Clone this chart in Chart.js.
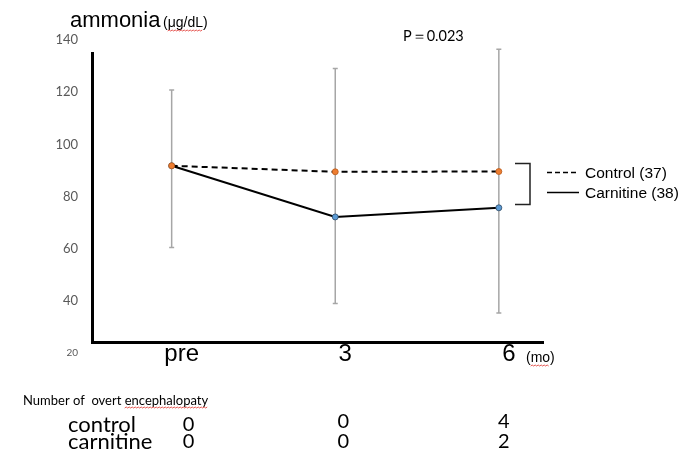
<!DOCTYPE html>
<html>
<head>
<meta charset="utf-8">
<script src="https://cdn.jsdelivr.net/npm/chart.js@4"></script>
<style>
  html, body { margin: 0; padding: 0; background: #fff; }
</style>
</head>
<body>
<canvas id="chart" width="685" height="453"></canvas>
<script>
const timepoints = ['pre', '3', '6'];
const controlMean = [91.8, 89.5, 89.6];
const carnitineMean = [91.8, 72.2, 75.7];
const errHigh = [120.8, 129.1, 136.4];
const errLow = [60.5, 39.0, 35.4];
const yTicks = [20, 40, 60, 80, 100, 120, 140];
const eventRows = ['control', 'carnitine'];
const controlEvents = [0, 0, 4];
const carnitineEvents = [0, 0, 2];

// x nudges for the count columns under each timepoint
const countShift = [17, 8, 5];

function pts(values) {
    return values.map((v, i) => ({ x: i, y: v }));
}

// red spell-check wave under a word
function squiggle(ctx, x0, x1, y) {
    ctx.save();
    ctx.strokeStyle = '#e0302a';
    ctx.lineWidth = 0.8;
    ctx.beginPath();
    let up = true;
    ctx.moveTo(x0, y);
    for (let x = x0 + 1.5; x <= x1; x += 1.5) {
        ctx.lineTo(x, up ? y - 1 : y);
        up = !up;
    }
    ctx.stroke();
    ctx.restore();
}

const extras = {
    id: 'extras',
    beforeDatasetsDraw(chart) {
        const { ctx, scales: { x, y } } = chart;
        ctx.save();
        ctx.strokeStyle = '#a6a6a6';
        ctx.lineWidth = 1.5;
        errHigh.forEach((hi, i) => {
            const px = x.getPixelForValue(i);
            const top = y.getPixelForValue(hi);
            const bot = y.getPixelForValue(errLow[i]);
            ctx.beginPath();
            ctx.moveTo(px, top); ctx.lineTo(px, bot);
            ctx.moveTo(px - 2.5, top); ctx.lineTo(px + 2.5, top);
            ctx.moveTo(px - 2.5, bot); ctx.lineTo(px + 2.5, bot);
            ctx.stroke();
        });
        ctx.restore();
    },
    afterDraw(chart) {
        const { ctx, scales: { x } } = chart;
        ctx.save();
        ctx.fillStyle = '#000';
        ctx.textBaseline = 'alphabetic';
        ctx.textAlign = 'left';

        // axis title
        ctx.font = '22px "Liberation Sans"';
        ctx.fillText('ammonia', 70, 27);
        ctx.font = '14px "Liberation Sans"';
        ctx.fillText('(μg/dL)', 163, 27);
        const pw = ctx.measureText('(').width;
        const uw = ctx.measureText('μg/dL').width;
        squiggle(ctx, 163 + pw, 163 + pw + uw, 31);

        ctx.font = '14.5px Lato';
        ctx.fillText('P＝0.023', 403, 41);

        // bracket between the two groups
        ctx.strokeStyle = '#222';
        ctx.lineWidth = 1.5;
        ctx.beginPath();
        ctx.moveTo(515, 163.5); ctx.lineTo(530, 163.5); ctx.lineTo(530, 204.5); ctx.lineTo(515, 204.5);
        ctx.stroke();

        // legend
        ctx.strokeStyle = '#000';
        ctx.beginPath();
        ctx.setLineDash([5, 3]);
        ctx.moveTo(547, 172.5); ctx.lineTo(579, 172.5);
        ctx.stroke();
        ctx.setLineDash([]);
        ctx.beginPath();
        ctx.moveTo(547, 192.5); ctx.lineTo(579, 192.5);
        ctx.stroke();
        ctx.font = '15.5px "Liberation Sans"';
        ctx.fillText('Control (37)', 585, 178);
        ctx.fillText('Carnitine (38)', 585, 198);

        // unit after the last tick
        ctx.font = '14px "Liberation Sans"';
        ctx.fillText('(mo)', 526, 362);
        const mw = ctx.measureText('mo').width;
        squiggle(ctx, 526 + ctx.measureText('(').width, 526 + ctx.measureText('(').width + mw, 366);

        // counts table
        ctx.font = '13px Lato';
        const head = 'Number of  overt ';
        ctx.fillText(head + 'encephalopaty', 23, 405);
        const hx = 23 + ctx.measureText(head).width;
        squiggle(ctx, hx, hx + ctx.measureText('encephalopaty').width, 408);

        ctx.font = '22px Lato';
        ctx.fillText(eventRows[0], 68, 432);
        ctx.fillText(eventRows[1], 68, 449);

        ctx.font = '20px Lato';
        ctx.textAlign = 'center';
        controlEvents.forEach((n, i) => {
            ctx.fillText(String(n), x.getPixelForValue(i) + countShift[i], i === 0 ? 431 : 428);
        });
        carnitineEvents.forEach((n, i) => {
            ctx.fillText(String(n), x.getPixelForValue(i) + countShift[i], 448);
        });
        ctx.restore();
    }
};

new Chart(document.getElementById('chart'), {
    type: 'line',
    data: {
        datasets: [{
            label: 'Control (37)',
            data: pts(controlMean),
            borderColor: '#000',
            borderWidth: 2,
            borderDash: [6, 4],
            pointRadius: 3,
            pointBackgroundColor: '#ed7d31',
            pointBorderColor: '#b85a1c',
            pointBorderWidth: 0.8
        }, {
            label: 'Carnitine (38)',
            data: pts(carnitineMean),
            borderColor: '#000',
            borderWidth: 2,
            pointRadius: 3,
            pointBackgroundColor: '#5b9bd5',
            pointBorderColor: '#2e4a66',
            pointBorderWidth: 0.8
        }]
    },
    options: {
        responsive: false,
        animation: false,
        layout: { padding: { top: 53, right: 142, left: 0, bottom: 0 } },
        plugins: {
            legend: { display: false },
            tooltip: { enabled: false }
        },
        scales: {
            x: {
                type: 'linear',
                min: -0.487,
                max: 2.27,
                grid: { display: false, drawTicks: false },
                border: { display: true, color: '#000', width: 3 },
                afterBuildTicks: s => { s.ticks = timepoints.map((t, i) => ({ value: i })); },
                afterFit: s => { s.height = 111; },
                ticks: {
                    callback: v => timepoints[v],
                    labelOffset: 10,
                    padding: 0,
                    autoSkip: false,
                    maxRotation: 0,
                    color: '#000',
                    font: { family: 'Liberation Sans', size: 24, lineHeight: 1 }
                }
            },
            y: {
                min: 24.3,
                max: 135,
                grid: { display: false, drawTicks: false },
                border: { display: true, color: '#000', width: 3 },
                afterBuildTicks: s => { s.ticks = yTicks.map(v => ({ value: v })); },
                afterFit: s => { s.width = 92; },
                ticks: {
                    padding: 14,
                    autoSkip: false,
                    color: '#595959',
                    font: ctx => ({ family: 'Lato', size: ctx.tick && ctx.tick.value === 20 ? 10 : 13 })
                }
            }
        }
    },
    plugins: [extras]
});
</script>
</body>
</html>
